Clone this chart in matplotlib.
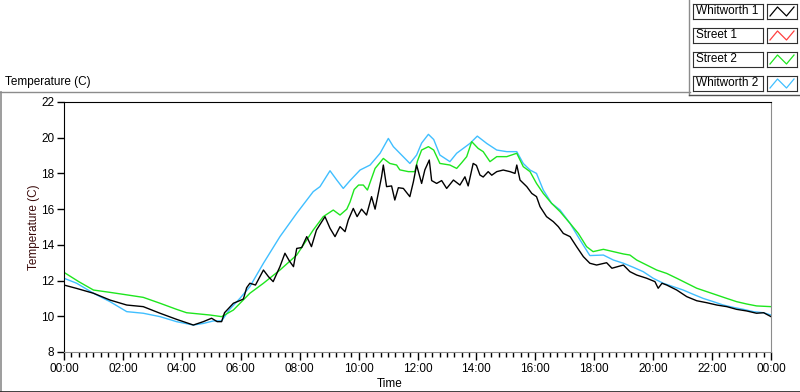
import matplotlib
matplotlib.use("Agg")
import matplotlib.pyplot as plt
from matplotlib.lines import Line2D
from matplotlib.ticker import MultipleLocator, FuncFormatter

plt.rcParams['font.family'] = ['Liberation Sans', 'DejaVu Sans']

# Whitworth 1 (black, noisy)
w1_hours = [0, 0.43, 1.0, 1.56, 2.13, 2.69, 3.26, 3.82, 4.39, 4.73, 5.01, 5.2, 5.35, 5.45,
            5.75, 6.0, 6.09, 6.2, 6.31, 6.5, 6.77, 6.94, 7.1, 7.33, 7.5, 7.65, 7.79, 7.9,
            8.07, 8.24, 8.4, 8.57, 8.86, 9.03, 9.2, 9.37, 9.54, 9.65, 9.82, 9.95, 10.1,
            10.27, 10.44, 10.56, 10.67, 10.78, 10.84, 10.95, 11.12, 11.23, 11.35, 11.52,
            11.74, 11.86, 11.97, 12.14, 12.25, 12.4, 12.48, 12.65, 12.82, 12.99, 13.22,
            13.44, 13.61, 13.72, 13.89, 14.0, 14.12, 14.23, 14.4, 14.52, 14.69, 14.91,
            15.14, 15.31, 15.37, 15.48, 15.71, 15.88, 16.04, 16.16, 16.38, 16.61, 16.78,
            16.95, 17.18, 17.4, 17.63, 17.85, 18.08, 18.42, 18.6, 18.99, 19.21, 19.44,
            19.78, 20.06, 20.17, 20.3, 20.46, 20.8, 21.14, 21.48, 21.82, 22.16, 22.5,
            22.83, 23.17, 23.51, 23.75, 24.0]
w1_temp = [11.75, 11.56, 11.29, 10.91, 10.63, 10.54, 10.17, 9.83, 9.51, 9.7, 9.89, 9.7, 9.7, 10.2,
           10.73, 10.9, 10.97, 11.6, 11.85, 11.75, 12.59, 12.22, 11.94, 12.78, 13.53, 13.1, 12.78, 13.8,
           13.85, 14.46, 13.9, 14.83, 15.58, 14.93, 14.46, 15.02, 14.74, 15.39, 16.04, 15.58, 16.0,
           15.67, 16.7, 16.0, 16.9, 17.81, 18.47, 17.26, 17.3, 16.51, 17.2, 17.16,
           16.7, 17.53, 18.47, 17.44, 18.2, 18.75, 17.6, 17.44, 17.6, 17.16, 17.63,
           17.35, 17.81, 17.3, 18.56, 18.45, 17.91, 17.8, 18.1, 17.9, 18.1, 18.19,
           18.1, 18.0, 18.47, 17.63, 17.26, 16.88, 16.7, 16.14, 15.58, 15.3, 15.02,
           14.64, 14.46, 13.9, 13.34, 12.97, 12.87, 13.0, 12.69, 12.87, 12.5, 12.31,
           12.13, 11.94, 11.57, 11.85, 11.75, 11.47, 11.1, 10.87, 10.76, 10.63, 10.54,
           10.39, 10.3, 10.17, 10.2, 9.98]

# Street 1 (red) - no data shown
s1_hours = []
s1_temp = []

# Street 2 (green)
s2_hours = [0, 0.5, 1.0, 1.56, 2.13, 2.69, 3.26, 3.82, 4.16, 4.96, 5.35, 5.75, 6.31, 6.77,
            7.33, 7.9, 8.46, 8.8, 9.14, 9.37, 9.6, 9.71, 9.85, 10.0, 10.16, 10.3, 10.56,
            10.84, 11.06, 11.29, 11.4, 11.69, 11.91, 12.0, 12.14, 12.37, 12.55, 12.76,
            13.1, 13.33, 13.5, 13.67, 13.84, 14.06, 14.23, 14.46, 14.69, 15.03, 15.37,
            15.59, 15.82, 16.04, 16.27, 16.55, 16.84, 17.18, 17.46, 17.74, 17.96, 18.31,
            18.65, 18.99, 19.21, 19.44, 19.78, 20.12, 20.46, 20.8, 21.14, 21.48, 21.82,
            22.16, 22.5, 22.83, 23.17, 23.51, 24.0]
s2_temp = [12.46, 11.94, 11.47, 11.34, 11.2, 11.06, 10.73, 10.39, 10.2, 10.07, 9.98, 10.35, 11.29, 11.85,
           12.59, 13.43, 14.83, 15.58, 15.95, 15.67, 16.0, 16.4, 17.1, 17.35, 17.35, 17.07, 18.28,
           18.84, 18.56, 18.47, 18.2, 18.1, 18.1, 18.7, 19.31, 19.5, 19.31, 18.56,
           18.47, 18.28, 18.6, 18.94, 19.78, 19.4, 19.22, 18.66, 18.94, 18.94, 19.13,
           18.38, 18.1, 17.44, 16.88, 16.33, 15.86, 15.2, 14.64, 13.9, 13.62, 13.75,
           13.62, 13.49, 13.43, 13.15, 12.87, 12.59, 12.4, 12.13, 11.85, 11.57, 11.38,
           11.19, 11.0, 10.82, 10.69, 10.58, 10.54]

# Whitworth 2 (light blue)
w2_hours = [0, 0.43, 1.0, 1.56, 2.13, 2.69, 3.26, 3.82, 4.39, 4.73, 5.07, 5.35, 5.63, 5.97,
            6.31, 6.77, 7.33, 7.9, 8.46, 8.69, 9.03, 9.26, 9.48, 9.71, 10.05, 10.39, 10.73,
            11.01, 11.18, 11.4, 11.74, 11.97, 12.14, 12.37, 12.55, 12.76, 13.1, 13.33,
            13.78, 14.03, 14.35, 14.69, 15.03, 15.37, 15.59, 15.82, 16.04, 16.27, 16.55,
            16.84, 17.18, 17.52, 17.85, 18.31, 18.65, 18.99, 19.33, 19.66, 20.0, 20.34,
            20.68, 21.02, 21.36, 21.7, 22.04, 22.38, 22.72, 23.06, 23.4, 23.74, 24.0]
w2_temp = [12.13, 11.85, 11.29, 10.82, 10.26, 10.17, 9.98, 9.7, 9.51, 9.6, 9.74, 9.74, 10.4, 11.0,
           11.66, 12.97, 14.46, 15.77, 16.98, 17.26, 18.15, 17.63, 17.16, 17.6, 18.19, 18.47, 19.13,
           19.96, 19.5, 19.13, 18.56, 19.03, 19.7, 20.19, 19.9, 19.03, 18.66, 19.13,
           19.68, 20.09, 19.68, 19.31, 19.22, 19.22, 18.56, 18.19, 18.0, 17.07, 16.33,
           15.95, 15.2, 14.27, 13.4, 13.43, 13.15, 12.97, 12.74, 12.5, 12.13, 11.85,
           11.66, 11.47, 11.23, 11.0, 10.82, 10.63, 10.5, 10.39, 10.26, 10.2, 10.07]

names = ["Whitworth 1", "Street 1", "Street 2", "Whitworth 2"]
colors = ["black", "#ff4040", "#1ee61e", "#40bfff"]
series = [(w1_hours, w1_temp), (s1_hours, s1_temp), (s2_hours, s2_temp), (w2_hours, w2_temp)]

fig = plt.figure(figsize=(8, 3.92), dpi=100)
ax = fig.add_axes([64 / 800, 1 - 352 / 392, 707 / 800, 250 / 392])

# draw order: blue, green, red, black on top
for i in [3, 2, 1, 0]:
    h, t = series[i]
    ax.plot(h, t, color=colors[i], lw=1.0)

ax.set_xlim(0, 24)
ax.set_ylim(8, 22)
ax.xaxis.set_major_locator(MultipleLocator(2))
ax.xaxis.set_minor_locator(MultipleLocator(0.25))
ax.xaxis.set_major_formatter(FuncFormatter(lambda v, p: "%02d:00" % (int(round(v)) % 24)))
ax.yaxis.set_major_locator(MultipleLocator(2))
ax.tick_params(axis='x', which='major', length=6, width=1, labelsize=8.5, pad=2)
ax.tick_params(axis='x', which='minor', length=3.5, width=1)
ax.tick_params(axis='y', which='major', length=5, width=1, labelsize=8.5, pad=2)
ax.spines['top'].set_color('black')
ax.spines['left'].set_color('black')
ax.spines['bottom'].set_color('#8c8c8c')
ax.spines['right'].set_color('#8c8c8c')
ax.set_ylabel("Temperature (C)", fontsize=8.5, color='#3a0a0a', labelpad=1)
fig.text(390 / 800, 1 - 384 / 392, "Time", fontsize=8.5, ha='center', va='center')

# panel caption and frame
fig.text(5 / 800, 1 - 82 / 392, "Temperature (C)", fontsize=8.5, ha='left', va='center')
fig.add_artist(Line2D([0, 690 / 800], [1 - 92 / 392, 1 - 92 / 392], color='#8c8c8c', lw=1,
                      transform=fig.transFigure))
fig.add_artist(Line2D([1 / 800, 1 / 800], [0, 1 - 92 / 392], color='#8c8c8c', lw=1.2,
                      transform=fig.transFigure))
fig.add_artist(Line2D([0, 1], [0.5 / 392, 0.5 / 392], color='#202020', lw=1.2,
                      transform=fig.transFigure))
fig.add_artist(Line2D([689 / 800, 689 / 800], [1 - 95 / 392, 1], color='#8c8c8c', lw=1,
                      transform=fig.transFigure))
fig.add_artist(Line2D([689 / 800, 1], [1 - 95 / 392, 1 - 95 / 392], color='#505050', lw=1,
                      transform=fig.transFigure))

# legend: label boxes + sample boxes
for i, name in enumerate(names):
    top = 4 + 24 * i
    lab = fig.add_axes([693 / 800, 1 - (top + 15) / 392, 70 / 800, 15 / 392])
    lab.set_xticks([])
    lab.set_yticks([])
    lab.text(0.04, 0.5, name, fontsize=8.5, ha='left', va='center', transform=lab.transAxes)
    for s in lab.spines.values():
        s.set_color('#303030')
    smp = fig.add_axes([767 / 800, 1 - (top + 15) / 392, 30 / 800, 15 / 392])
    smp.set_xticks([])
    smp.set_yticks([])
    for s in smp.spines.values():
        s.set_color('#303030')
    smp.plot([0.1, 0.35, 0.65, 0.9], [0.2, 0.8, 0.2, 0.8], color=colors[i], lw=0.9)
    smp.set_xlim(0, 1)
    smp.set_ylim(0, 1)

fig.savefig("out.png", dpi=100)
